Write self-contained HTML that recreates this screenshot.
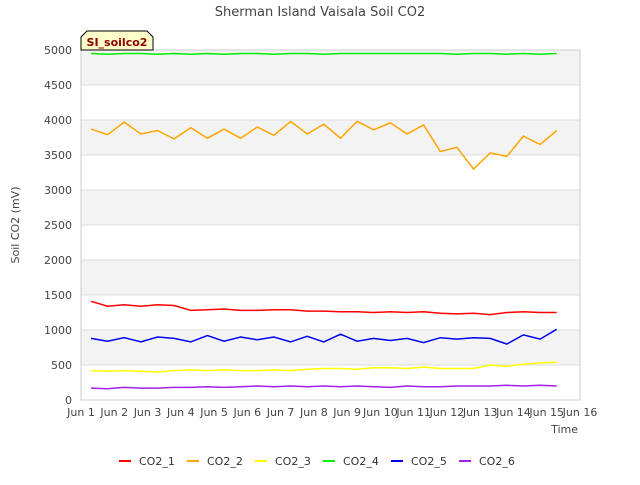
<!DOCTYPE html>
<html><head><meta charset="utf-8"><style>
body{margin:0;background:#fff;font-family:"Liberation Sans","DejaVu Sans",sans-serif}
</style></head><body>
<svg id="chart" width="640" height="480" xmlns="http://www.w3.org/2000/svg" font-family="DejaVu Sans, Liberation Sans, sans-serif">
<text x="320" y="16" text-anchor="middle" font-size="13" fill="#444">Sherman Island Vaisala Soil CO2</text>
<g id="bands"></g><g id="grid"></g>
<rect x="81" y="50" width="499" height="350" fill="none" stroke="#ccc"/>
<g id="ticks"></g><g id="series"></g>
<text transform="translate(19,225) rotate(-90)" text-anchor="middle" font-size="11" fill="#444">Soil CO2 (mV)</text>
<text x="578" y="433" text-anchor="end" font-size="11" fill="#444">Time</text>
<g>
<path d="M81,50 L81,37 L87,31 L147,31 L153,37 L153,50 Z" fill="#ffffcc" stroke="#000"/>
<text x="117" y="46" text-anchor="middle" font-size="11" font-weight="bold" fill="#8b0000">SI_soilco2</text>
</g>
<g id="legend"></g>
</svg>
<script>
const tDays=[1.3,1.8,2.3,2.8,3.3,3.8,4.3,4.8,5.3,5.8,6.3,6.8,7.3,7.8,8.3,8.8,9.3,9.8,10.3,10.8,11.3,11.8,12.3,12.8,13.3,13.8,14.3,14.8,15.3];
const co2_1=[1410,1340,1360,1340,1360,1350,1280,1290,1300,1280,1280,1290,1290,1270,1270,1260,1260,1250,1260,1250,1260,1240,1230,1240,1220,1250,1260,1250,1250];
const co2_2=[3870,3790,3970,3800,3850,3730,3890,3740,3870,3740,3900,3780,3980,3800,3940,3740,3980,3860,3960,3800,3930,3550,3610,3300,3530,3480,3770,3650,3850];
const co2_3=[420,410,420,410,400,420,430,420,430,420,420,430,420,440,450,450,440,460,460,450,470,450,450,450,500,480,510,530,540];
const co2_4=[4950,4940,4950,4950,4940,4950,4940,4950,4940,4950,4950,4940,4950,4950,4940,4950,4950,4950,4950,4950,4950,4950,4940,4950,4950,4940,4950,4940,4950];
const co2_5=[880,840,890,830,900,880,830,920,840,900,860,900,830,910,830,940,840,880,850,880,820,890,870,890,880,800,930,870,1010];
const co2_6=[170,160,180,170,170,180,180,190,180,190,200,190,200,190,200,190,200,190,180,200,190,190,200,200,200,210,200,210,200];
const yTicks=[0,500,1000,1500,2000,2500,3000,3500,4000,4500,5000];
const xTicks=[1,2,3,4,5,6,7,8,9,10,11,12,13,14,15,16];
const names=["CO2_1","CO2_2","CO2_3","CO2_4","CO2_5","CO2_6"];
const colors=["#ff0000","#ffa500","#ffff00","#00ee00","#0000ee","#a020f0"];
const X=d=>81+(d-1)*(499/15), Y=v=>400-v*0.07;
const NS="http://www.w3.org/2000/svg";
function mk(tag,attrs,parent){const e=document.createElementNS(NS,tag);for(const k in attrs)e.setAttribute(k,attrs[k]);document.getElementById(parent).appendChild(e);return e;}
for(let i=0;i<yTicks.length-1;i++){if(i%2===1){const r=mk('rect',{x:81,y:Y(yTicks[i+1]),width:499,height:Y(yTicks[i])-Y(yTicks[i+1]),fill:'#f3f3f3'},'bands');

}}
yTicks.forEach(v=>{const l=mk('line',{x1:81,x2:580,y1:Y(v),y2:Y(v),stroke:'#ddd'},'grid');


const t=mk('text',{x:72,y:Y(v)+4,'text-anchor':'end','font-size':11,fill:'#444'},'ticks');t.textContent=v;

});
xTicks.forEach(d=>{const t=mk('text',{x:X(d),y:416,'text-anchor':'middle','font-size':11,fill:'#444'},'ticks');t.textContent='Jun '+d;

});
[co2_1,co2_2,co2_3,co2_4,co2_5,co2_6].forEach((s,i)=>{const p=mk('polyline',{points:s.map((v,j)=>X(tDays[j]).toFixed(1)+','+Y(v).toFixed(1)).join(' '),fill:'none',stroke:colors[i],'stroke-width':1.5},'series');


const lx=119+i*68;
const g=mk('g',{},'legend');


const ln=document.createElementNS(NS,'line');ln.setAttribute('x1',lx);ln.setAttribute('x2',lx+12);ln.setAttribute('y1',461);ln.setAttribute('y2',461);ln.setAttribute('stroke',colors[i]);ln.setAttribute('stroke-width',2);g.appendChild(ln);
const tx=document.createElementNS(NS,'text');tx.setAttribute('x',lx+20);tx.setAttribute('y',465);tx.setAttribute('font-size',11);tx.setAttribute('fill','#333');tx.textContent=names[i];g.appendChild(tx);});
</script>
</body></html>
